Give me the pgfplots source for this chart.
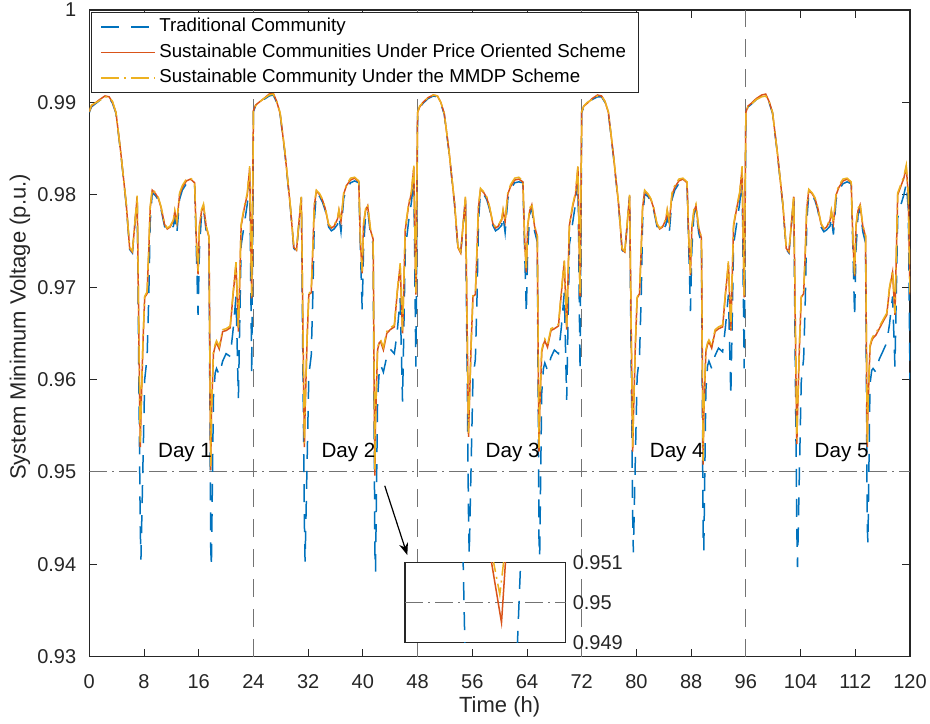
\documentclass[border=0pt]{standalone}
\usepackage{pgfplots}
\usepackage{pgfplotstable}
\pgfplotsset{compat=1.18}
\usepackage{fontspec}
\setmainfont{Liberation Sans}
\usetikzlibrary{arrows.meta}
\definecolor{mblue}{rgb}{0,0.447,0.741}
\definecolor{morange}{rgb}{0.85,0.325,0.098}
\definecolor{myellow}{rgb}{0.929,0.694,0.125}
\definecolor{mgray}{rgb}{0.45,0.45,0.45}
\definecolor{axc}{rgb}{0.15,0.15,0.15}
\newcommand{\tickfont}{\fontsize{10}{12}\selectfont}
\newcommand{\labfont}{\fontsize{11}{13}\selectfont}
\newcommand{\legfont}{\fontsize{9.35}{11}\selectfont}

% t : time (h), T : traditional, P : price oriented, M : MMDP
\pgfplotstableread{
t T P M
0.00 0.9889 0.9890 0.9890
0.30 0.9895 0.9896 0.9897
0.80 0.9898 0.9899 0.9899
1.50 0.9902 0.9903 0.9902
2.30 0.9906 0.9907 0.9906
2.90 0.9905 0.9906 0.9906
3.40 0.9899 0.9900 0.9901
3.90 0.9888 0.9889 0.9889
4.60 0.9845 0.9846 0.9846
5.40 0.9789 0.9790 0.9791
5.90 0.9741 0.9742 0.9743
6.30 0.9737 0.9738 0.9739
6.70 0.9771 0.9772 0.9773
7.00 0.9797 0.9798 0.9799
7.45 0.9440 0.9527 0.9532
7.55 0.9405 0.9560 0.9563
7.85 0.9510 0.9640 0.9642
8.10 0.9600 0.9689 0.9690
8.45 0.9624 0.9693 0.9695
8.70 0.9690 0.9740 0.9742
8.90 0.9770 0.9785 0.9787
9.20 0.9802 0.9805 0.9806
9.70 0.9799 0.9801 0.9802
10.10 0.9794 0.9796 0.9797
10.50 0.9784 0.9786 0.9787
11.00 0.9766 0.9768 0.9769
11.40 0.9760 0.9763 0.9764
11.80 0.9762 0.9765 0.9766
12.30 0.9766 0.9772 0.9773
12.50 0.9776 0.9782 0.9783
12.80 0.9758 0.9770 0.9771
13.20 0.9795 0.9800 0.9802
13.60 0.9805 0.9808 0.9810
14.20 0.9812 0.9815 0.9817
14.80 0.9814 0.9817 0.9818
15.40 0.9812 0.9813 0.9814
15.65 0.9740 0.9752 0.9754
15.90 0.9670 0.9714 0.9716
16.10 0.9740 0.9765 0.9766
16.40 0.9778 0.9782 0.9784
16.70 0.9785 0.9788 0.9790
17.10 0.9760 0.9765 0.9766
17.50 0.9748 0.9754 0.9755
17.75 0.9420 0.9502 0.9506
17.85 0.9397 0.9560 0.9563
18.15 0.9580 0.9628 0.9630
18.40 0.9607 0.9636 0.9638
18.60 0.9612 0.9640 0.9642
19.00 0.9605 0.9633 0.9636
19.50 0.9620 0.9652 0.9654
20.00 0.9628 0.9653 0.9655
20.60 0.9625 0.9656 0.9658
21.00 0.9652 0.9690 0.9692
21.45 0.9690 0.9725 0.9727
21.80 0.9580 0.9652 0.9655
22.20 0.9745 0.9766 0.9768
22.70 0.9770 0.9787 0.9789
23.10 0.9790 0.9800 0.9802
23.45 0.9815 0.9829 0.9831
23.75 0.9606 0.9688 0.9690
24.00 0.9890 0.9891 0.9891
24.30 0.9896 0.9897 0.9896
24.80 0.9899 0.9900 0.9900
25.50 0.9903 0.9904 0.9904
26.30 0.9907 0.9909 0.9908
26.90 0.9908 0.9910 0.9909
27.40 0.9900 0.9901 0.9901
27.90 0.9887 0.9888 0.9889
28.60 0.9845 0.9846 0.9847
29.40 0.9786 0.9787 0.9788
29.90 0.9742 0.9743 0.9744
30.30 0.9739 0.9740 0.9741
30.70 0.9773 0.9774 0.9775
31.00 0.9797 0.9797 0.9798
31.45 0.9445 0.9527 0.9531
31.55 0.9403 0.9565 0.9568
31.85 0.9512 0.9645 0.9646
32.10 0.9605 0.9692 0.9693
32.45 0.9626 0.9694 0.9696
32.70 0.9695 0.9745 0.9746
32.90 0.9772 0.9788 0.9790
33.20 0.9802 0.9804 0.9805
33.70 0.9798 0.9800 0.9801
34.10 0.9792 0.9794 0.9795
34.50 0.9783 0.9785 0.9786
35.00 0.9765 0.9767 0.9768
35.40 0.9761 0.9764 0.9765
35.80 0.9763 0.9766 0.9767
36.30 0.9768 0.9774 0.9775
36.50 0.9777 0.9783 0.9784
36.80 0.9760 0.9771 0.9772
37.20 0.9796 0.9801 0.9802
37.60 0.9806 0.9810 0.9811
38.20 0.9813 0.9816 0.9818
38.80 0.9815 0.9818 0.9819
39.40 0.9813 0.9814 0.9815
39.65 0.9738 0.9748 0.9750
39.90 0.9676 0.9715 0.9717
40.10 0.9742 0.9768 0.9769
40.40 0.9779 0.9783 0.9785
40.70 0.9784 0.9788 0.9790
41.10 0.9758 0.9762 0.9764
41.50 0.9746 0.9752 0.9753
41.75 0.9415 0.9496 0.9502
41.85 0.9392 0.9555 0.9560
42.15 0.9578 0.9632 0.9634
42.40 0.9610 0.9640 0.9642
42.60 0.9616 0.9641 0.9643
43.00 0.9608 0.9632 0.9635
43.50 0.9625 0.9650 0.9652
44.00 0.9633 0.9654 0.9656
44.60 0.9628 0.9657 0.9659
45.00 0.9650 0.9692 0.9694
45.45 0.9688 0.9724 0.9726
45.80 0.9576 0.9650 0.9653
46.20 0.9740 0.9762 0.9764
46.70 0.9772 0.9789 0.9791
47.10 0.9792 0.9802 0.9804
47.45 0.9818 0.9830 0.9832
47.75 0.9614 0.9692 0.9694
48.00 0.9888 0.9889 0.9889
48.30 0.9894 0.9895 0.9896
48.80 0.9899 0.9900 0.9900
49.50 0.9904 0.9905 0.9905
50.30 0.9907 0.9908 0.9908
50.90 0.9906 0.9907 0.9907
51.40 0.9899 0.9900 0.9900
51.90 0.9887 0.9888 0.9888
52.60 0.9846 0.9847 0.9847
53.40 0.9790 0.9791 0.9792
53.90 0.9742 0.9743 0.9744
54.30 0.9736 0.9737 0.9738
54.70 0.9770 0.9771 0.9772
55.00 0.9796 0.9797 0.9798
55.45 0.9450 0.9538 0.9542
55.55 0.9410 0.9568 0.9571
55.85 0.9515 0.9642 0.9644
56.10 0.9602 0.9690 0.9691
56.45 0.9622 0.9692 0.9694
56.70 0.9692 0.9742 0.9744
56.90 0.9771 0.9786 0.9788
57.20 0.9803 0.9806 0.9807
57.70 0.9800 0.9802 0.9803
58.10 0.9795 0.9797 0.9798
58.50 0.9785 0.9787 0.9788
59.00 0.9767 0.9769 0.9770
59.40 0.9761 0.9764 0.9765
59.80 0.9763 0.9766 0.9767
60.30 0.9767 0.9773 0.9774
60.50 0.9777 0.9783 0.9784
60.80 0.9759 0.9771 0.9772
61.20 0.9796 0.9801 0.9803
61.60 0.9806 0.9809 0.9811
62.20 0.9813 0.9816 0.9818
62.80 0.9814 0.9817 0.9819
63.40 0.9813 0.9814 0.9815
63.65 0.9741 0.9751 0.9753
63.90 0.9672 0.9716 0.9718
64.10 0.9741 0.9766 0.9767
64.40 0.9779 0.9783 0.9785
64.70 0.9786 0.9789 0.9791
65.10 0.9761 0.9766 0.9767
65.50 0.9749 0.9755 0.9756
65.75 0.9428 0.9522 0.9526
65.85 0.9408 0.9565 0.9568
66.15 0.9585 0.9630 0.9632
66.40 0.9612 0.9638 0.9640
66.60 0.9618 0.9642 0.9644
67.00 0.9610 0.9635 0.9638
67.50 0.9624 0.9653 0.9655
68.00 0.9632 0.9655 0.9657
68.60 0.9628 0.9658 0.9660
69.00 0.9655 0.9692 0.9694
69.45 0.9694 0.9728 0.9730
69.80 0.9578 0.9654 0.9657
70.20 0.9746 0.9767 0.9769
70.70 0.9771 0.9788 0.9790
71.10 0.9791 0.9801 0.9803
71.45 0.9816 0.9830 0.9832
71.75 0.9610 0.9690 0.9692
72.00 0.9889 0.9890 0.9890
72.30 0.9895 0.9896 0.9896
72.80 0.9898 0.9899 0.9900
73.50 0.9903 0.9904 0.9903
74.30 0.9906 0.9908 0.9907
74.90 0.9906 0.9907 0.9907
75.40 0.9900 0.9901 0.9901
75.90 0.9888 0.9889 0.9890
76.60 0.9844 0.9845 0.9846
77.40 0.9788 0.9789 0.9790
77.90 0.9740 0.9741 0.9742
78.30 0.9737 0.9738 0.9739
78.70 0.9772 0.9773 0.9774
79.00 0.9798 0.9799 0.9800
79.45 0.9452 0.9522 0.9527
79.55 0.9413 0.9558 0.9561
79.85 0.9518 0.9638 0.9640
80.10 0.9603 0.9688 0.9689
80.45 0.9625 0.9693 0.9695
80.70 0.9691 0.9741 0.9743
80.90 0.9771 0.9786 0.9788
81.20 0.9801 0.9804 0.9805
81.70 0.9798 0.9800 0.9801
82.10 0.9793 0.9795 0.9796
82.50 0.9784 0.9786 0.9787
83.00 0.9766 0.9768 0.9769
83.40 0.9760 0.9763 0.9764
83.80 0.9762 0.9765 0.9766
84.30 0.9767 0.9773 0.9774
84.50 0.9777 0.9783 0.9784
84.80 0.9759 0.9770 0.9771
85.20 0.9795 0.9800 0.9802
85.60 0.9805 0.9808 0.9810
86.20 0.9812 0.9815 0.9817
86.80 0.9814 0.9817 0.9818
87.40 0.9812 0.9813 0.9814
87.65 0.9742 0.9752 0.9754
87.90 0.9674 0.9713 0.9715
88.10 0.9741 0.9764 0.9765
88.40 0.9778 0.9782 0.9784
88.70 0.9785 0.9788 0.9790
89.10 0.9759 0.9764 0.9765
89.50 0.9747 0.9753 0.9754
89.75 0.9432 0.9508 0.9512
89.85 0.9415 0.9562 0.9565
90.15 0.9588 0.9630 0.9632
90.40 0.9615 0.9638 0.9640
90.60 0.9620 0.9641 0.9643
91.00 0.9612 0.9634 0.9637
91.50 0.9626 0.9652 0.9654
92.00 0.9634 0.9655 0.9657
92.60 0.9630 0.9657 0.9659
93.00 0.9656 0.9691 0.9693
93.45 0.9692 0.9726 0.9728
93.80 0.9582 0.9653 0.9656
94.20 0.9746 0.9766 0.9768
94.70 0.9771 0.9787 0.9789
95.10 0.9791 0.9801 0.9803
95.45 0.9816 0.9829 0.9831
95.75 0.9612 0.9689 0.9691
96.00 0.9888 0.9889 0.9889
96.30 0.9895 0.9896 0.9895
96.80 0.9898 0.9899 0.9898
97.50 0.9903 0.9904 0.9903
98.30 0.9907 0.9908 0.9906
98.90 0.9907 0.9909 0.9907
99.40 0.9900 0.9901 0.9901
99.90 0.9888 0.9889 0.9889
100.60 0.9845 0.9846 0.9846
101.40 0.9789 0.9790 0.9791
101.90 0.9741 0.9742 0.9743
102.30 0.9737 0.9738 0.9739
102.70 0.9771 0.9772 0.9773
103.00 0.9797 0.9798 0.9799
103.45 0.9437 0.9530 0.9535
103.55 0.9397 0.9562 0.9565
103.85 0.9508 0.9640 0.9642
104.10 0.9598 0.9689 0.9690
104.45 0.9623 0.9693 0.9695
104.70 0.9689 0.9740 0.9742
104.90 0.9770 0.9785 0.9787
105.20 0.9802 0.9805 0.9806
105.70 0.9799 0.9801 0.9802
106.10 0.9794 0.9796 0.9797
106.50 0.9784 0.9786 0.9787
107.00 0.9765 0.9768 0.9769
107.40 0.9760 0.9763 0.9764
107.80 0.9762 0.9765 0.9766
108.30 0.9766 0.9772 0.9773
108.50 0.9776 0.9782 0.9783
108.80 0.9757 0.9769 0.9770
109.20 0.9795 0.9800 0.9802
109.60 0.9805 0.9808 0.9810
110.20 0.9812 0.9815 0.9817
110.80 0.9814 0.9817 0.9818
111.40 0.9812 0.9813 0.9814
111.65 0.9741 0.9751 0.9753
111.90 0.9668 0.9712 0.9714
112.10 0.9740 0.9766 0.9767
112.40 0.9778 0.9783 0.9785
112.70 0.9785 0.9789 0.9791
113.10 0.9760 0.9766 0.9767
113.50 0.9748 0.9755 0.9756
113.75 0.9440 0.9527 0.9531
113.85 0.9423 0.9568 0.9571
114.15 0.9595 0.9635 0.9637
114.40 0.9610 0.9642 0.9644
114.60 0.9612 0.9645 0.9647
115.00 0.9608 0.9648 0.9650
115.50 0.9622 0.9655 0.9657
116.00 0.9630 0.9662 0.9664
116.60 0.9640 0.9670 0.9672
117.00 0.9660 0.9698 0.9700
117.45 0.9690 0.9716 0.9718
117.80 0.9614 0.9670 0.9672
118.20 0.9775 0.9800 0.9802
118.70 0.9790 0.9810 0.9812
119.10 0.9800 0.9818 0.9820
119.45 0.9812 0.9830 0.9832
119.75 0.9785 0.9800 0.9801
120.00 0.9600 0.9692 0.9694
}\voltdata

\begin{document}
\begin{tikzpicture}
\useasboundingbox (-44.65pt,-33.15pt) rectangle (420.35pt,328.35pt);
\begin{axis}[
  at={(0pt,0pt)}, anchor=south west,
  scale only axis, width=410.35pt, height=323.35pt,
  xmin=0, xmax=120, ymin=0.93, ymax=1,
  xtick={0,8,16,24,32,40,48,56,64,72,80,88,96,104,112,120},
  xticklabels={0,8,16,24,32,40,48,56,64,72,80,88,96,104,112,120},
  ytick={0.93,0.94,0.95,0.96,0.97,0.98,0.99,1},
  yticklabels={0.93,0.94,0.95,0.96,0.97,0.98,0.99,1},
  tick align=inside, major tick length=4pt,
  tick style={color=axc, line width=0.5pt},
  axis line style={color=axc, line width=0.6pt},
  tick label style={font=\tickfont, text=axc},
  xticklabel style={yshift=-5.5pt},
  yticklabel style={xshift=-3pt},
  xlabel={Time (h)}, ylabel={System Minimum Voltage (p.u.)},
  label style={font=\labfont, text=axc},
  xlabel style={at={(axis description cs:0.5,-0.0773)}, anchor=center},
  ylabel style={at={(axis description cs:-0.0844,0.51)}, anchor=center, rotate=0},
  legend cell align=left,
  legend image code/.code={\draw[#1] (0pt,0pt) -- (27pt,0pt);},
  legend style={at={(rel axis cs:0.0022,0.9975)}, anchor=north west,
    draw=axc, line width=0.5pt, fill=white, font=\legfont,
    inner xsep=4.5pt, inner ysep=1pt,
    nodes={inner sep=1.6pt, text height=7.2pt, text depth=2.4pt}},
  clip=true,
]
% reference lines
\addplot[forget plot, mgray, line width=0.55pt, dash pattern=on 9pt off 6pt] coordinates {(24,0.93) (24,1)};
\addplot[forget plot, mgray, line width=0.55pt, dash pattern=on 9pt off 6pt] coordinates {(48,0.93) (48,1)};
\addplot[forget plot, mgray, line width=0.55pt, dash pattern=on 9pt off 6pt] coordinates {(72,0.93) (72,1)};
\addplot[forget plot, mgray, line width=0.55pt, dash pattern=on 9pt off 6pt] coordinates {(96,0.93) (96,1)};
\addplot[forget plot, mgray, line width=0.55pt, dash pattern=on 9pt off 2.5pt on 1pt off 2.5pt] coordinates {(0,0.95) (120,0.95)};
% series
\addplot[mblue, line width=0.75pt, dash pattern=on 9pt off 6pt] table[x=t, y=T] {\voltdata};
\addlegendentry{Traditional Community}
\addplot[morange, line width=0.75pt] table[x=t, y=P] {\voltdata};
\addlegendentry{Sustainable Communities Under Price Oriented Scheme}
\addplot[myellow, line width=0.75pt, dash pattern=on 9pt off 2.5pt on 1pt off 2.5pt] table[x=t, y=M] {\voltdata};
\addlegendentry{Sustainable Community Under the MMDP Scheme}
% day labels
\node[font=\fontsize{10.3}{12}\selectfont, text=black] at (axis cs:14,0.9521) {Day 1};
\node[font=\fontsize{10.3}{12}\selectfont, text=black] at (axis cs:37.9,0.9521) {Day 2};
\node[font=\fontsize{10.3}{12}\selectfont, text=black] at (axis cs:61.9,0.9521) {Day 3};
\node[font=\fontsize{10.3}{12}\selectfont, text=black] at (axis cs:85.9,0.9521) {Day 4};
\node[font=\fontsize{10.3}{12}\selectfont, text=black] at (axis cs:110,0.9521) {Day 5};
\draw[black, line width=0.6pt, -{Stealth[length=6pt, width=4.5pt]}] (axis cs:43.2,0.9485) -- (axis cs:46.5,0.9410);
\end{axis}
% inset
\begin{axis}[
  at={(157.85pt,7pt)}, anchor=south west,
  scale only axis, width=80.35pt, height=40.2pt,
  xmin=41.45, xmax=42.05, ymin=0.949, ymax=0.951,
  xtick=\empty,
  ytick={0.949,0.95,0.951}, yticklabels={0.949,0.95,0.951},
  yticklabel pos=right, major tick length=0pt,
  axis line style={color=axc, line width=0.6pt},
  tick label style={font=\tickfont, text=axc},
  axis background/.style={fill=white},
  clip=true,
]
\addplot[mgray, line width=0.55pt, dash pattern=on 9pt off 2.5pt on 1pt off 2.5pt] coordinates {(41.45,0.95) (42.05,0.95)};
\addplot[mblue, line width=0.75pt, dash pattern=on 9pt off 6pt] coordinates {(41.664,0.952) (41.6765,0.948) (41.77,0.9400) (41.864,0.948) (41.8935,0.953)};
\addplot[morange, line width=0.75pt] coordinates {(41.768,0.9512) (41.8103,0.9495) (41.827,0.9512)};
\addplot[myellow, line width=0.75pt, dash pattern=on 9pt off 2.5pt on 1pt off 2.5pt] coordinates {(41.775,0.9512) (41.804,0.9502) (41.8215,0.9512)};
\end{axis}
\end{tikzpicture}
\end{document}
